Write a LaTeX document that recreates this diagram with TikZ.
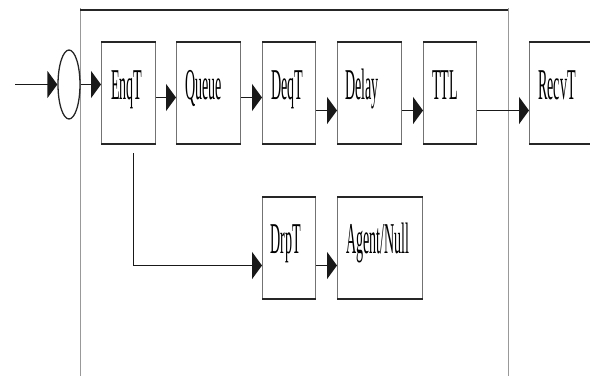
\documentclass[tikz,border=0pt]{standalone}
\usepackage{fontspec}
\setmainfont{Liberation Serif}
\usepackage{graphicx}
\usetikzlibrary{arrows.meta,shapes.geometric}
\newcommand\sqz[1]{\scalebox{0.32}[1]{#1}}
\begin{document}
\begin{tikzpicture}[x=1pt,y=-1pt,
  blk/.style={draw=black!55, line width=1pt, minimum width=#1, minimum height=101pt, inner sep=0pt, anchor=north west,
    append after command={(\tikzlastnode.north west) edge[draw=black!85, line width=1.7pt] (\tikzlastnode.north east)
                          (\tikzlastnode.south west) edge[draw=black!85, line width=1.7pt] (\tikzlastnode.south east)}},
  txt/.style={anchor=base west, inner sep=0pt, font=\fontsize{44}{48}\selectfont},
  conn/.style={draw=black!90, line width=1.9pt, -{Triangle[length=10pt,width=27pt]}},
  frmside/.style={draw=black!40, line width=1pt},
  frmtop/.style={draw=black!85, line width=1.5pt}]
\useasboundingbox (0,0) rectangle (590,376);
\clip (0,0) rectangle (590,376);
% frame
\draw[frmside] (80,376) -- (80,8);
\draw[frmside] (508,8) -- (508,376);
\draw[frmtop] (80,10) -- (508,10);
% boxes
\node[blk=54pt] (enq) at (101,42) {};
\node[blk=64pt] (que) at (176,42) {};
\node[blk=53pt] (deq) at (262,42) {};
\node[blk=64pt] (del) at (337,42) {};
\node[blk=53pt] (ttl) at (423,42) {};
\node[blk=90pt] (rcv) at (529,42) {};
\node[blk=53pt] (drp) at (262,197) {};
\node[blk=85pt] (agn) at (337,197) {};
% labels
\node[txt] (tenq) at (111,99) {\sqz{EnqT}};
\node[txt] (tque) at (185,99) {\sqz{Queue}};
\node[txt] (tdeq) at (271,99) {\sqz{DeqT}};
\node[txt] (tdel) at (345,99) {\sqz{Delay}};
\node[txt] (tttl) at (432,99) {\sqz{TTL}};
\node[txt] (trcv) at (538,99) {\sqz{RecvT}};
\node[txt] (tdrp) at (270,253) {\sqz{DrpT}};
\node[txt] (tagn) at (346,253) {\sqz{Agent/Null}};
% junction circle
\node[ellipse, draw=black!85, line width=1.3pt, minimum width=22pt, minimum height=69pt, inner sep=0pt] (circ) at (69,84.5) {};
% connectors
\coordinate (src) at (15,84.5);
\draw[conn] (src) -- (circ.west);
\draw[conn] (circ.east) -- (circ.east -| enq.west);
\draw[conn] ([yshift=-4.5pt]enq.east) -- ([yshift=-4.5pt]que.west);
\draw[conn] ([yshift=-4.5pt]que.east) -- ([yshift=-4.5pt]deq.west);
\draw[conn] ([yshift=-17.5pt]deq.east) -- ([yshift=-17.5pt]del.west);
\draw[conn] ([yshift=-17.5pt]del.east) -- ([yshift=-17.5pt]ttl.west);
\draw[conn] ([yshift=-17.5pt]ttl.east) -- ([yshift=-17.5pt]rcv.west);
\draw[conn, shorten <=9pt] ([xshift=5pt]enq.south) |- ([yshift=-17.5pt]drp.west);
\draw[conn] ([yshift=-17.5pt]drp.east) -- ([yshift=-17.5pt]agn.west);
\end{tikzpicture}
\end{document}
